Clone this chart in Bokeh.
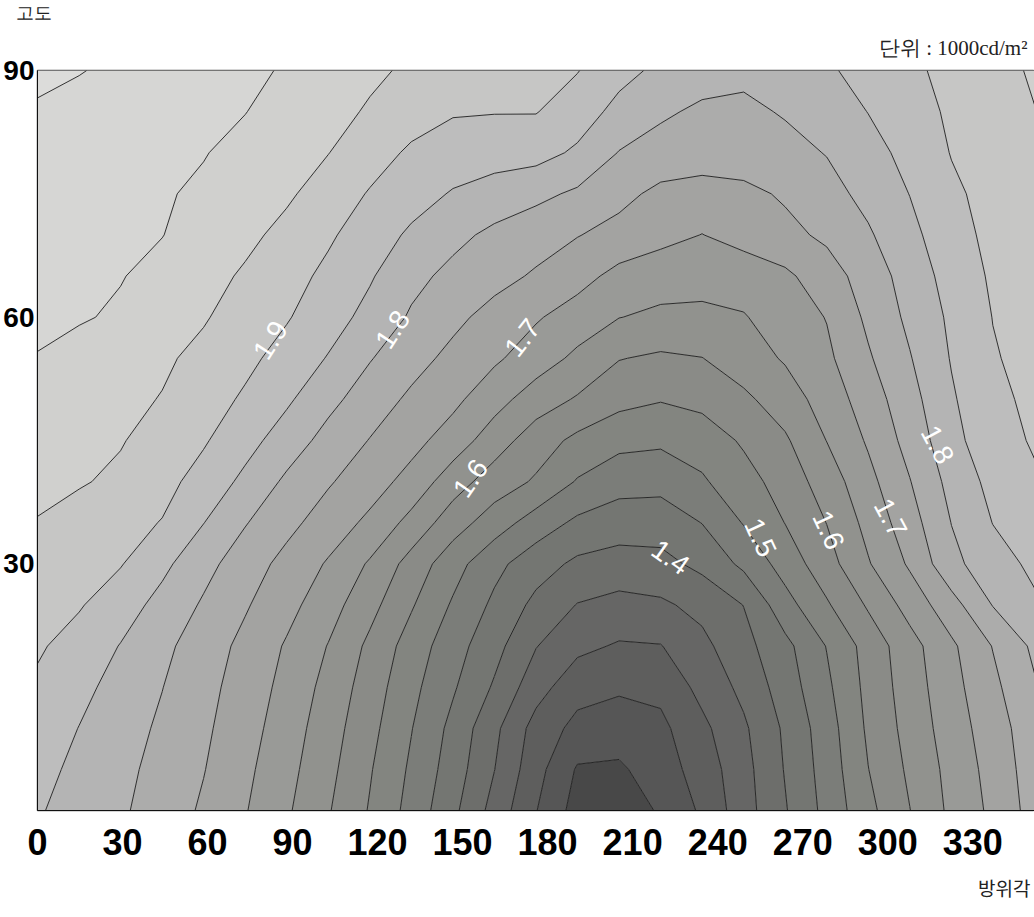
import numpy as np
from bokeh.plotting import figure
from bokeh.models import FixedTicker, ColumnDataSource, Title
from bokeh.embed import file_html
from bokeh.resources import INLINE
from bokeh.core.properties import value

# ---- data -----------------------------------------------------------------
# azimuth (deg) of the sampled columns and altitude (deg) of the sampled rows
AZIMUTH = [0.0, 14.7, 29.3, 44.0, 58.6, 73.3, 87.9, 102.6, 117.3, 131.9, 146.6, 161.2,
           175.9, 190.5, 205.2, 219.9, 234.5, 249.2, 263.8, 278.5, 293.1, 307.8, 322.5,
           337.1, 351.8]
ALTITUDE = [0, 5, 10, 15, 20, 25, 30, 35, 40, 45, 50, 55, 60, 65, 70, 75, 80, 85, 90]

# sky luminance (x1000 cd/m2) along each altitude row
LUM_ALT00 = [1.855, 1.829, 1.807, 1.777, 1.743, 1.703, 1.657, 1.604, 1.546, 1.483, 1.412, 1.332,
             1.252, 1.180, 1.170, 1.206, 1.258, 1.329, 1.396, 1.465, 1.536, 1.599, 1.661, 1.711, 1.770]
LUM_ALT05 = [1.866, 1.838, 1.813, 1.784, 1.752, 1.711, 1.666, 1.614, 1.554, 1.492, 1.426, 1.351,
             1.268, 1.195, 1.192, 1.227, 1.271, 1.333, 1.403, 1.471, 1.549, 1.609, 1.666, 1.718, 1.775]
LUM_ALT10 = [1.878, 1.849, 1.821, 1.792, 1.759, 1.720, 1.675, 1.623, 1.565, 1.502, 1.436, 1.362,
             1.281, 1.235, 1.225, 1.238, 1.288, 1.342, 1.408, 1.477, 1.558, 1.618, 1.675, 1.726, 1.780]
LUM_ALT15 = [1.892, 1.863, 1.833, 1.801, 1.766, 1.728, 1.685, 1.634, 1.576, 1.514, 1.456, 1.394,
             1.320, 1.269, 1.257, 1.263, 1.315, 1.363, 1.424, 1.490, 1.564, 1.625, 1.683, 1.738, 1.795]
LUM_ALT20 = [1.906, 1.881, 1.848, 1.812, 1.775, 1.737, 1.695, 1.648, 1.589, 1.528, 1.471, 1.417,
             1.352, 1.312, 1.295, 1.298, 1.337, 1.384, 1.436, 1.502, 1.569, 1.631, 1.691, 1.752, 1.810]
LUM_ALT25 = [1.920, 1.904, 1.873, 1.834, 1.794, 1.755, 1.716, 1.671, 1.616, 1.555, 1.494, 1.440,
             1.387, 1.348, 1.335, 1.342, 1.364, 1.401, 1.481, 1.544, 1.606, 1.669, 1.731, 1.802, 1.843]
LUM_ALT30 = [1.934, 1.918, 1.903, 1.862, 1.816, 1.774, 1.735, 1.695, 1.644, 1.581, 1.520, 1.464,
             1.422, 1.390, 1.379, 1.385, 1.413, 1.461, 1.521, 1.580, 1.646, 1.707, 1.786, 1.830, 1.860]
LUM_ALT35 = [1.948, 1.932, 1.916, 1.898, 1.851, 1.803, 1.764, 1.727, 1.689, 1.634, 1.573, 1.525,
             1.477, 1.440, 1.425, 1.423, 1.451, 1.503, 1.551, 1.601, 1.665, 1.729, 1.801, 1.851, 1.879]
LUM_ALT40 = [1.961, 1.954, 1.941, 1.915, 1.882, 1.838, 1.791, 1.755, 1.722, 1.683, 1.623, 1.576,
             1.544, 1.496, 1.468, 1.466, 1.494, 1.530, 1.572, 1.623, 1.685, 1.748, 1.816, 1.865, 1.895]
LUM_ALT45 = [1.973, 1.963, 1.953, 1.931, 1.905, 1.868, 1.826, 1.783, 1.748, 1.716, 1.677, 1.624,
             1.574, 1.538, 1.515, 1.509, 1.521, 1.557, 1.593, 1.651, 1.706, 1.768, 1.833, 1.884, 1.904]
LUM_ALT50 = [1.986, 1.974, 1.961, 1.948, 1.922, 1.893, 1.858, 1.814, 1.775, 1.741, 1.712, 1.669,
             1.625, 1.595, 1.565, 1.553, 1.565, 1.590, 1.625, 1.672, 1.724, 1.782, 1.844, 1.889, 1.910]
LUM_ALT55 = [1.998, 1.984, 1.971, 1.957, 1.938, 1.912, 1.882, 1.847, 1.803, 1.768, 1.737, 1.708,
             1.675, 1.639, 1.602, 1.592, 1.599, 1.626, 1.655, 1.690, 1.744, 1.797, 1.853, 1.896, 1.916]
LUM_ALT60 = [2.010, 2.004, 1.994, 1.974, 1.954, 1.929, 1.904, 1.871, 1.835, 1.794, 1.762, 1.733,
             1.705, 1.678, 1.651, 1.641, 1.640, 1.647, 1.673, 1.702, 1.760, 1.811, 1.859, 1.901, 1.921]
LUM_ALT65 = [2.015, 2.009, 2.002, 1.987, 1.966, 1.944, 1.918, 1.889, 1.855, 1.814, 1.787, 1.766,
             1.744, 1.718, 1.685, 1.670, 1.666, 1.671, 1.690, 1.728, 1.772, 1.822, 1.869, 1.907, 1.927]
LUM_ALT70 = [2.020, 2.013, 2.007, 2.001, 1.980, 1.961, 1.937, 1.907, 1.875, 1.842, 1.813, 1.789,
             1.771, 1.752, 1.734, 1.716, 1.699, 1.719, 1.737, 1.759, 1.794, 1.836, 1.882, 1.912, 1.932]
LUM_ALT75 = [2.025, 2.018, 2.011, 2.004, 1.993, 1.975, 1.957, 1.929, 1.896, 1.870, 1.846, 1.829,
             1.812, 1.792, 1.764, 1.738, 1.732, 1.738, 1.756, 1.783, 1.814, 1.851, 1.891, 1.916, 1.938]
LUM_ALT80 = [2.030, 2.023, 2.016, 2.009, 2.002, 1.987, 1.969, 1.951, 1.922, 1.892, 1.877, 1.871,
             1.868, 1.842, 1.798, 1.780, 1.772, 1.775, 1.785, 1.802, 1.832, 1.865, 1.902, 1.922, 1.943]
LUM_ALT85 = [2.045, 2.036, 2.027, 2.018, 2.009, 2.001, 1.982, 1.962, 1.946, 1.922, 1.904, 1.902,
             1.902, 1.875, 1.835, 1.808, 1.791, 1.790, 1.804, 1.823, 1.851, 1.881, 1.907, 1.928, 1.949]
LUM_ALT90 = [2.060, 2.052, 2.041, 2.030, 2.019, 2.009, 1.996, 1.977, 1.957, 1.944, 1.933, 1.923,
             1.912, 1.902, 1.866, 1.839, 1.822, 1.811, 1.829, 1.844, 1.865, 1.890, 1.914, 1.936, 1.955]

# contour levels (lines every 0.05)
LEVELS = [1.10, 1.20, 1.25, 1.30, 1.35, 1.40, 1.45, 1.50, 1.55, 1.60, 1.65, 1.70,
          1.75, 1.80, 1.85, 1.90, 1.95, 2.00, 2.05, 2.15]

# tick labels
X_TICKS = [0, 30, 60, 90, 120, 150, 180, 210, 240, 270, 300, 330]
Y_TICKS = [30, 60, 90]

# in-plot contour labels
CLABEL_TEXT = ["1.9", "1.8", "1.7", "1.6", "1.4", "1.5", "1.6", "1.7", "1.8"]

# ---- styling ---------------------------------------------------------------
BAND_COLORS = ["#484848", "#565656", "#5e5e5d", "#666665", "#6d6e6b", "#747672",
               "#7b7d79", "#838580", "#8a8b87", "#91928e", "#999a97", "#a3a3a1",
               "#acacab", "#b4b4b4", "#bdbdbd", "#c6c6c5", "#d0d0ce", "#d6d6d4", "#dcdcda"]

CLABEL_AZ = [82.2, 125.3, 171.1, 152.8, 223.4, 255.1, 279.1, 301.0, 317.6]
CLABEL_ALT = [57.2, 58.5, 57.5, 40.4, 30.8, 33.2, 34.1, 35.6, 44.5]
CLABEL_ANGLE = [57, 57, 52, 55, -35, -65, -65, -62, -62]

Z = np.array([LUM_ALT00, LUM_ALT05, LUM_ALT10, LUM_ALT15, LUM_ALT20, LUM_ALT25,
              LUM_ALT30, LUM_ALT35, LUM_ALT40, LUM_ALT45, LUM_ALT50, LUM_ALT55,
              LUM_ALT60, LUM_ALT65, LUM_ALT70, LUM_ALT75, LUM_ALT80, LUM_ALT85, LUM_ALT90])

p = figure(width=1034, height=914, x_range=(0, AZIMUTH[-1]), y_range=(0, 90),
           output_backend="svg", toolbar_location=None,
           min_border_left=37, min_border_right=0, min_border_top=0, min_border_bottom=0)
p.background_fill_color = "white"
p.border_fill_color = "white"
p.grid.visible = False
p.outline_line_color = "#555555"
p.outline_line_width = 1.5

p.contour(AZIMUTH, ALTITUDE, Z, levels=LEVELS, fill_color=BAND_COLORS,
          line_color="#1c1c1c", line_width=0.9)

src = ColumnDataSource(dict(x=CLABEL_AZ, y=CLABEL_ALT, t=CLABEL_TEXT,
                            a=[np.deg2rad(v) for v in CLABEL_ANGLE]))
p.text(x="x", y="y", text="t", angle="a", source=src, text_color="white",
       text_font=value("Liberation Sans"), text_font_size="28px",
       text_align="center", text_baseline="middle")

# axes
p.xaxis.ticker = FixedTicker(ticks=X_TICKS)
p.yaxis.ticker = FixedTicker(ticks=Y_TICKS)
for ax in (p.xaxis, p.yaxis):
    ax.major_tick_line_color = None
    ax.minor_tick_line_color = None
    ax.major_tick_out = 0
    ax.major_tick_in = 0
    ax.axis_line_color = "#111111"
    ax.major_label_text_font = "Liberation Sans"
    ax.major_label_text_font_style = "bold"
    ax.major_label_text_color = "black"
p.xaxis.major_label_text_font_size = "36px"
p.xaxis.major_label_standoff = 18
p.yaxis.major_label_text_font_size = "28px"
p.yaxis.major_label_standoff = 3

# texts around the plot (titles stacked above / below the frame)
t_units = Title(text="단위 : 1000cd/m²", align="right", offset=7,
                text_font="Liberation Serif", text_font_size="21px",
                text_font_style="normal", text_color="#222222", standoff=22)
t_alt = Title(text="고도", align="left", offset=-22,
              text_font="Liberation Serif", text_font_size="18px",
              text_font_style="normal", text_color="#222222", standoff=0)
p.add_layout(t_units, "above")
p.add_layout(t_alt, "above")
t_az = Title(text="방위각", align="right", offset=4,
             text_font="Noto Sans CJK KR", text_font_size="19px",
             text_font_style="normal", text_color="#222222", standoff=28)
p.add_layout(t_az, "below")

open("out.html", "w").write(file_html(p, INLINE))
